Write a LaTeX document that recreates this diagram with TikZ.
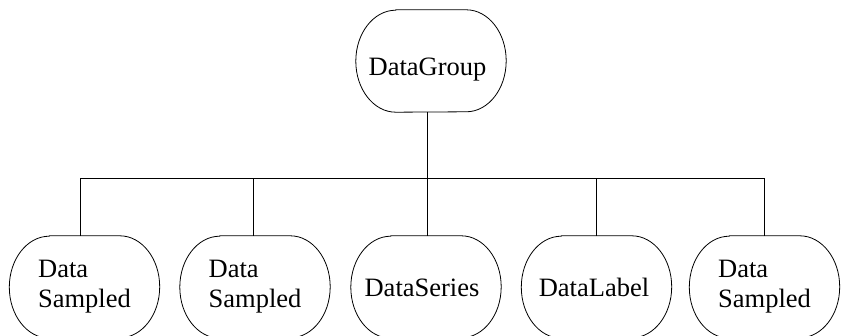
\documentclass[tikz,border=0pt]{standalone}
\usepackage{fontspec}
\setmainfont{Liberation Serif}
\begin{document}
\begin{tikzpicture}[x=1pt,y=-1pt,
  blob/.style={minimum width=150pt, minimum height=102pt, inner sep=0pt,
    font=\fontsize{26.5}{30}\selectfont},
  multi/.style={blob, align=left},
  link/.style={draw=black, line width=0.8pt}]
\useasboundingbox (0,0) rectangle (841,336);
\clip (0,0) rectangle (841,336);
\node[blob, text height=30pt, text depth=0pt] (top) at (431,61) {DataGroup\hspace*{7pt}};
\node[multi] (n1) at (84.5,287) {Data\\Sampled};
\node[multi] (n2) at (255,287) {Data\\Sampled};
\node[blob, text height=20pt, text depth=0pt] (n3) at (426,287) {DataSeries\hspace*{8pt}};
\node[blob, text height=20pt, text depth=0pt] (n4) at (596.5,287) {DataLabel\hspace*{5pt}};
\node[multi] (n5) at (764.5,287) {Data\\Sampled};
\foreach \n in {top,n1,n2,n3,n4,n5}{
  \draw[line width=0.8pt] ([xshift=40pt]\n.north west) -- ([xshift=-40pt]\n.north east)
    arc[start angle=90, end angle=-90, x radius=40pt, y radius=51pt]
    -- ([xshift=40pt]\n.south west)
    arc[start angle=-90, end angle=-270, x radius=40pt, y radius=51pt] -- cycle;
}
\coordinate (bar) at (427,178);
\draw[link] ([xshift=-4pt]top.south) -- ([xshift=-4pt]top.south |- bar);
\draw[link] ([xshift=-4pt]n1.north) -- ([xshift=-4pt]n1.north |- bar) -- (n5.north |- bar) -- (n5.north);
\draw[link] ([xshift=-2pt]n2.north) -- ([xshift=-2pt]n2.north |- bar);
\draw[link] ([xshift=1pt]n3.north) -- ([xshift=1pt]n3.north |- bar);
\draw[link] (n4.north) -- (n4.north |- bar);
\end{tikzpicture}
\end{document}
